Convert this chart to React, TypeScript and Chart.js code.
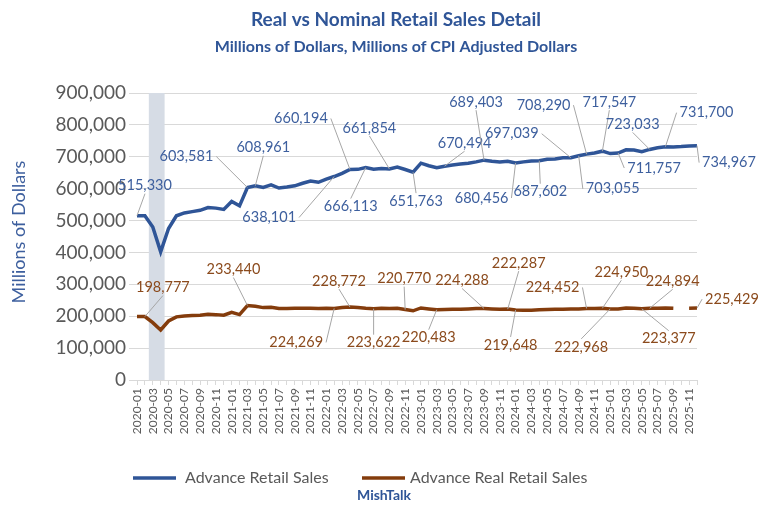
import React, { useEffect, useRef } from "react";
import { Chart, registerables } from "chart.js";
Chart.register(...registerables);

const categories: string[] = [];
for (let y = 2020; y <= 2025; y++) for (let m = 1; m <= 12; m++) categories.push(`${y}-${String(m).padStart(2, "0")}`);

const nominal = [515330, 515000, 480000, 402000, 475000, 515000, 524000, 528000, 532000, 541000, 539000, 535000,
  560000, 546000, 603581, 608961, 604000, 612000, 602000, 605000, 609000, 617000, 624000, 620000,
  630000, 638101, 648000, 660194, 660500, 666113, 661000, 663000, 661854, 668000, 660000, 651763,
  680000, 672000, 666000, 670494, 674000, 677000, 680000, 684000, 689403, 686000, 684000, 686000,
  680456, 684000, 687000, 687602, 692000, 693000, 697000, 697039, 703055, 708290, 712000, 717547,
  710000, 711757, 722000, 721000, 716000, 723033, 728000, 731700, 731000, 732000, 734000, 734967];
const real: (number | null)[] = [199000, 198777, 180000, 157000, 185000, 198000, 201000, 202000, 203000, 206000, 205000, 203000,
  212000, 205000, 233440, 231000, 227000, 228000, 224000, 224000, 225000, 225000, 225000, 224000,
  225000, 224269, 227000, 228772, 227000, 225000, 223622, 225000, 224000, 225000, 220770, 217000,
  226000, 223000, 220483, 221000, 222000, 222000, 223000, 224000, 224288, 223000, 222000, 222287,
  219648, 219000, 219000, 220000, 221000, 222000, 222000, 223000, 223000, 224452, 224000, 224950,
  222968, 223000, 226000, 225000, 223377, 224894, 225000, 226000, 225000, null, 225000, 225429];

// [index, label dx, label dy]
const nominalNotes = [[0, 8, -30], [14, -61, -31], [15, 8, -38], [25, -65, 41], [27, -49, -51], [29, -15, 39],
  [32, -20, -41], [35, 3, 29], [39, 20, -23], [44, -8, -58], [48, -34, 35], [51, 1, 31], [55, -59, -24],
  [56, 34, 33], [57, -43, -49], [59, 7, -49], [61, 36, 15], [65, -17, -25], [67, 41, -34], [71, 32, 17]];
const realNotes = [[1, 18, -29], [14, -14, -36], [25, -38, 34], [27, -11, -26], [30, 0, 34], [34, -1, -31],
  [38, -8, 28], [44, -22, -28], [47, 11, -46], [48, -5, 35], [57, -34, -21], [59, 19, -36], [60, -29, 38],
  [64, 27, 30], [65, 23, -27], [71, 35, -9]];

const BLUE = "#2f5597";
const BROWN = "#843c0c";
const FONT = "Lato, 'Open Sans', sans-serif";

const overlay = {
  id: "overlay",
  beforeDatasetsDraw(chart: any) {
    const { ctx, scales, chartArea } = chart;
    const x1 = scales.x.getPixelForValue(1.5), x2 = scales.x.getPixelForValue(3.5);
    ctx.save();
    ctx.fillStyle = "#d6dce5";
    ctx.fillRect(x1, chartArea.top, x2 - x1, chartArea.bottom - chartArea.top);
    ctx.restore();
  },
  afterDatasetsDraw(chart: any) {
    const { ctx } = chart;
    ctx.save();
    ctx.font = `14.5px ${FONT}`;
    ctx.textAlign = "center";
    ctx.textBaseline = "middle";
    const draw = (dsi: number, notes: number[][], color: string) => {
      const meta = chart.getDatasetMeta(dsi);
      const data = chart.data.datasets[dsi].data;
      notes.forEach(([i, dx, dy]) => {
        const p = meta.data[i];
        const txt = Number(data[i]).toLocaleString("en-US");
        const lx = p.x + dx, ly = p.y + dy;
        const w = ctx.measureText(txt).width / 2 + 3, h = 8;
        let ex = lx, ey = ly;
        if (Math.abs(dx) > w) ex = lx - Math.sign(dx) * w; else ey = ly - Math.sign(dy) * h;
        ctx.strokeStyle = "#a6a6a6";
        ctx.lineWidth = 1;
        ctx.beginPath(); ctx.moveTo(p.x, p.y); ctx.lineTo(ex, ey); ctx.stroke();
        ctx.fillStyle = color;
        ctx.fillText(txt, lx, ly);
      });
    };
    draw(0, nominalNotes, "#3d5f9e");
    draw(1, realNotes, "#8b4a1c");
    ctx.fillStyle = BLUE;
    ctx.font = `bold 19px ${FONT}`;
    ctx.fillText("Real vs Nominal Retail Sales Detail", 396, 20);
    ctx.font = `bold 16px ${FONT}`;
    ctx.fillText("Millions of Dollars, Millions of CPI Adjusted Dollars", 396, 47);
    ctx.font = `bold 14px ${FONT}`;
    ctx.fillText("MishTalk", 384, 495);
    ctx.save();
    ctx.translate(19, 232); ctx.rotate(-Math.PI / 2);
    ctx.font = `18px ${FONT}`;
    ctx.fillStyle = "#3d5f9e";
    ctx.fillText("Millions of Dollars", 0, 0);
    ctx.restore();
    ctx.font = `16px ${FONT}`;
    ctx.textAlign = "left";
    ctx.lineWidth = 3.5;
    ctx.strokeStyle = BLUE;
    ctx.beginPath(); ctx.moveTo(133, 478); ctx.lineTo(176, 478); ctx.stroke();
    ctx.fillStyle = "#595959";
    ctx.fillText("Advance Retail Sales", 185, 478);
    ctx.strokeStyle = BROWN;
    ctx.beginPath(); ctx.moveTo(362, 478); ctx.lineTo(405, 478); ctx.stroke();
    ctx.fillText("Advance Real Retail Sales", 410, 478);
    ctx.restore();
  },
};

export default function App() {
  const ref = useRef<HTMLCanvasElement>(null);
  useEffect(() => {
    document.body.style.margin = "0";
    const chart = new Chart(ref.current!, {
      type: "line",
      data: {
        labels: categories,
        datasets: [
          { label: "Advance Retail Sales", data: nominal, borderColor: BLUE, borderWidth: 3.5, pointRadius: 0, tension: 0 },
          { label: "Advance Real Retail Sales", data: real, borderColor: BROWN, borderWidth: 3.5, pointRadius: 0, spanGaps: false },
        ],
      },
      options: {
        animation: false,
        responsive: false,
        layout: { padding: { top: 93, left: 8, right: 71, bottom: 90 } },
        plugins: { legend: { display: false }, tooltip: { enabled: false } },
        scales: {
          x: {
            offset: false,
            grid: { drawOnChartArea: false, color: "#d9d9d9", tickLength: 5 },
            border: { color: "#d9d9d9" },
            ticks: {
              autoSkip: false, maxRotation: 90, minRotation: 90,
              color: "#595959", font: { size: 12, family: FONT },
              callback: (_v: any, i: number) => (i % 2 === 0 ? categories[i] : ""),
            },
            afterFit: (s: any) => { s.height = 57; },
          },
          y: {
            min: 0, max: 900000,
            ticks: { stepSize: 100000, color: "#595959", font: { size: 19, family: FONT },
              callback: (v: any) => Number(v).toLocaleString("en-US") },
            grid: { color: "#d9d9d9" },
            border: { display: false },
            afterFit: (s: any) => { s.width = 129; },
          },
        },
      },
      plugins: [overlay],
    });
    return () => chart.destroy();
  }, []);
  return <canvas ref={ref} width={768} height={527} style={{ display: "block" }} />;
}
